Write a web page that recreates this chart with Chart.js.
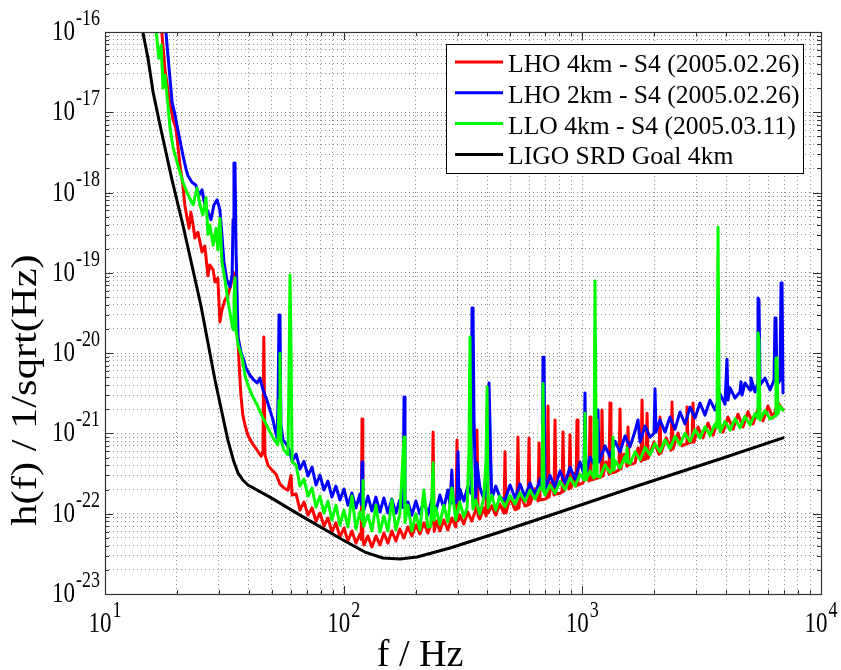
<!DOCTYPE html>
<html>
<head>
<meta charset="utf-8">
<script src="https://cdn.jsdelivr.net/npm/chart.js@4.4.1/dist/chart.umd.min.js"></script>
<style>
  html, body { margin: 0; padding: 0; background: #fff; }
  #wrap { width: 841px; height: 670px; }
</style>
</head>
<body>
<div id="wrap"><canvas id="noiseChart" width="841" height="670"></canvas></div>
<script>
// strain noise spectra, [frequency Hz, h(f) 1/sqrt(Hz)]
const lho4k = [[17.3,1e-16],[17.84,3.4e-17],[18.6,1.42e-17],[19.3,8.0e-18],[19.8,6.4e-18],[20.2,3.9e-18],[20.6,2.2e-18],[21.2,1.24e-18],[21.6,7.0e-19],[22.1,4.8e-19],[22.5,3.6e-19],[22.9,5.7e-19],[23.4,3.95e-19],[23.8,2.72e-19],[24.5,3.2e-19],[25.0,2.43e-19],[25.5,1.82e-19],[26.2,2.16e-19],[27.0,9.2e-20],[27.5,1.25e-19],[28.4,1.09e-19],[28.9,7.7e-20],[29.7,8.6e-20],[30.3,2.45e-20],[30.9,3.45e-20],[31.8,4.6e-20],[32.7,5.2e-20],[33.7,7.1e-20],[34.4,1.03e-19],[35.05,9.4e-20],[35.7,2.6e-20],[36.4,8.2e-21],[37.1,3.0e-21],[37.8,1.69e-21],[38.6,1.27e-21],[39.7,9.5e-22],[41.3,7.6e-22],[43.4,6.2e-22],[45.1,5.2e-22],[45.9,5.9e-22],[46.3,1.59e-20],[46.8,5.4e-22],[48.2,4.0e-22],[50.1,3.5e-22],[52.1,3.1e-22],[54.1,2.34e-22],[56.2,2.09e-22],[58.4,1.97e-22],[60.2,3.0e-22],[60.8,1.71e-22],
  [63.2,1.76e-22],[65.6,1.11e-22],[68.2,1.4e-22],[70.9,9.6e-23],[73.7,1.18e-22],[76.6,8.1e-23],[79.6,1.02e-22],[82.7,7.03e-23],[85.9,8.84e-23],[89.3,5.92e-23],[92.8,7.7e-23],[96.5,5.13e-23],[100.3,6.64e-23],[104.2,4.57e-23],[108.3,6.1e-23],[112.6,4.3e-23],[117.0,5.59e-23],[118.5,4.8e-23],[119.4,1.51e-21],[120.3,4.8e-23],[121.6,4.08e-23],[126.4,5.28e-23],[131.3,3.85e-23],[136.5,5.28e-23],[141.9,4.08e-23],[147.4,5.75e-23],[153.2,4.3e-23],[159.2,6.1e-23],[165.5,4.57e-23],[172.0,6.45e-23],[178.8,4.98e-23],[185.8,6.84e-23],[193.1,5.28e-23],[200.7,7.24e-23],[208.6,5.59e-23],[216.8,7.7e-23],[225.3,5.75e-23],[234.1,7.9e-23],[237,1.04e-21],[239.4,6.0e-23],[245.0,8.1e-23],[252.9,6.1e-23],[262.8,8.35e-23],[273.1,6.27e-23],[283.9,8.84e-23],[295.0,6.84e-23],[298.5,8.3e-22],[301.4,8.1e-23],[306.6,9.6e-23],[318.7,7.44e-23],[331.2,1.05e-22],[344.2,8.1e-23],[357.7,1.11e-22],[362,1.1e-21],[365.7,9.4e-23],[371.8,8.6e-23],[386.4,1.18e-22],[395,9.4e-23],[399,2.13e-21],[402.5,1.02e-22],[417.3,1.25e-22],[433.7,9.6e-23],[450.7,1.32e-22],
  [469.7,1.02e-22],[474.3,5.9e-22],[479,1.02e-22],[497.7,1.6e-22],[522.3,1.12e-22],[532,1.14e-22],[537.4,9.0e-22],[542.6,1.18e-22],[548.2,1.77e-22],[575.3,1.25e-22],[592,1.28e-22],[598,8.8e-22],[603.7,1.32e-22],[633.5,2.05e-22],[652,1.44e-22],[658.6,7.6e-22],[664.9,1.48e-22],[697.7,1.52e-22],[711,1.57e-22],[718,2.19e-21],[725,1.61e-22],[746.4,2.48e-22],[761,1.71e-22],[768.4,1.47e-21],[776,1.76e-22],[806.4,1.8e-22],[822,1.86e-22],[830,1.04e-21],[838,1.92e-22],[863,2.95e-22],[879,2.03e-22],[888,9.6e-22],[897,2.09e-22],[923,3.2e-22],[941,2.21e-22],[950,1.47e-21],[959,2.28e-22],[1006,2.41e-22],[1045,3.7e-22],[1066,2.55e-22],[1077,1.6e-21],[1087,2.63e-22],[1141,2.74e-22],[1198,2.87e-22],[1209,1.96e-21],[1221,2.95e-22],[1257,4.4e-22],[1293,3.1e-22],[1306,2.39e-21],[1318,3.2e-22],[1371,3.3e-22],[1424,3.5e-22],[1438,2.01e-21],[1452,3.6e-22],[1495,5.5e-22],[1539,3.9e-22],[1554,1.2e-21],[1569,4.05e-22],[1663,4.3e-22],[1711,6.6e-22],[1762,4.5e-22],[1779,2.6e-21],[1796,4.7e-22],[1849,4.8e-22],[1867,1.79e-21],[1885,4.9e-22],[1997,7.8e-22],[2096,5.5e-22],[2116,1.6e-21],[2137,5.7e-22],[2243,8.8e-22],[2353,6.2e-22],[2376,2.46e-21],[2399,6.4e-22],[2516,1.01e-21],[2616,7.0e-22],[2719,7.4e-22],[2745,2.13e-21],[2772,7.6e-22],[2881,7.8e-22],[2909,2.39e-21],[2937,7.8e-22],[3053,1.2e-21],[3203,8.8e-22],[3362,1.35e-21],[3529,9.5e-22],[3702,1.47e-21],[3886,1.04e-21],[4076,1.6e-21],[4279,1.13e-21],[4488,1.74e-21],[4711,1.2e-21],[4943,1.87e-21],[5187,1.31e-21],[5445,2.01e-21],[5715,1.43e-21],[5997,2.19e-21],[6293,1.56e-21],[6605,2.39e-21],[6933,1.96e-21]];

const lho2k = [[18.0,1e-16],[18.4,4.7e-17],[19.1,1.34e-17],[19.65,9.3e-18],[20.0,7.0e-18],[20.6,4.5e-18],[21.2,2.94e-18],[21.9,1.91e-18],[22.3,1.61e-18],[23.1,1.35e-18],[24.0,1.24e-18],[24.8,9.3e-19],[25.5,1.08e-18],[26.2,7.0e-19],[27.0,5.7e-19],[27.8,4.6e-19],[28.6,7.0e-19],[29.5,8.1e-19],[30.3,6.1e-19],[30.9,2.96e-19],[31.5,1.37e-19],[32.4,8.2e-20],[33.4,6.7e-20],[34.1,9.4e-20],[34.4,4.6e-19],[34.7,2.34e-18],[35.05,2.34e-18],[35.4,1.93e-19],[36.1,1.59e-20],[37.1,1.03e-20],[37.8,8.9e-21],[39.0,6.5e-21],[40.5,5.3e-21],[42.1,4.6e-21],[43.4,4.25e-21],[44.6,4.9e-21],[45.9,3.5e-21],[47.7,2.6e-21],[49.1,1.96e-21],[50.6,1.47e-21],[51.6,1.1e-21],[52.6,8.8e-22],[53.1,2.6e-21],[53.6,2.99e-20],[54.1,2.6e-20],[54.6,1.27e-21],[55.7,8.3e-22],[57.9,7.2e-22],[59.6,5.9e-22],
  [60.8,4.5e-22],[63.2,5.55e-22],[65.6,3.6e-22],[68.2,4.5e-22],[70.9,2.95e-22],[73.7,3.8e-22],[76.6,2.28e-22],[79.6,3.03e-22],[82.7,1.97e-22],[85.9,2.55e-22],[89.3,1.61e-22],[92.8,2.21e-22],[96.5,1.48e-22],[100.3,2.03e-22],[104.2,1.28e-22],[108.3,1.81e-22],[112.6,1.18e-22],[117.0,1.76e-22],[118.5,1.3e-22],[119.4,4.4e-22],[120.3,1.3e-22],[121.6,1.11e-22],[126.4,1.66e-22],[131.3,1.08e-22],[136.5,1.61e-22],[141.9,1.05e-22],[147.4,1.57e-22],[153.2,1.02e-22],[159.2,1.52e-22],[165.5,1.02e-22],[172.0,1.48e-22],[177.3,1.2e-22],[179,2.84e-21],[180.7,1.2e-22],[185.8,1.4e-22],[193.1,9.6e-23],[200.7,1.44e-22],[208.6,9.9e-23],[216.8,1.48e-22],[225.3,9.6e-23],[234.1,1.52e-22],[243.3,1.05e-22],[252.9,1.71e-22],[262.8,1.18e-22],[273.1,1.97e-22],[279,1.3e-22],[283.9,3.5e-22],[288,1.36e-22],[295.0,1.36e-22],[298.5,1.5e-22],[301.4,5.9e-22],[304.3,1.5e-22],[306.6,2.03e-22],[318.7,1.44e-22],[331.2,2.15e-22],[341.6,1.8e-22],[345,3.65e-20],[348.3,3.65e-20],[351.7,1.47e-21],[357.7,1.48e-22],[362,4.3e-22],[371.8,2.15e-22],[386.4,1.52e-22],[401.5,2.15e-22],[406.4,4.25e-21],[417.3,1.52e-22],[433.7,2.21e-22],[450.7,1.61e-22],
  [474.3,1.48e-22],[497.7,2.28e-22],[522.3,1.57e-22],[548.2,2.34e-22],[575.3,1.61e-22],[603.7,2.41e-22],[633.5,1.71e-22],[664.9,2.7e-22],[678,1.97e-22],[684.6,8.9e-21],[691.2,8.9e-21],[697.7,1.97e-22],[732.2,3.0e-22],[768.4,2.15e-22],[806.4,3.4e-22],[846.2,2.41e-22],[888.1,3.8e-22],[932,2.7e-22],[978.1,4.4e-22],[1016,3.1e-22],[1026,3.18e-21],[1036,3.1e-22],[1077,5.1e-22],[1130,3.9e-22],[1152,4.3e-22],[1163,1.96e-21],[1175,4.4e-22],[1245,7.0e-22],[1306,5.1e-22],[1371,8.0e-22],[1438,5.9e-22],[1510,9.3e-22],[1584,6.8e-22],[1663,1.07e-21],[1711,1.47e-21],[1745,7.8e-22],[1831,1.24e-21],[1921,9.0e-22],[1997,1.0e-21],[2016,3.6e-21],[2036,1.04e-21],[2116,1.47e-21],[2221,1.04e-21],[2330,1.6e-21],[2445,1.13e-21],[2566,1.85e-21],[2693,1.31e-21],[2826,2.13e-21],[2966,1.56e-21],[3112,2.39e-21],[3266,1.69e-21],[3427,2.6e-21],[3597,1.96e-21],[3775,3.1e-21],[3961,2.32e-21],[4037,8.4e-21],[4076,2.6e-21],[4157,3.7e-21],[4362,2.76e-21],[4578,3.28e-21],[4622,4.4e-21],[4667,3.0e-21],[4804,4.25e-21],[5041,3.47e-21],[5089,4.9e-21],[5290,3.28e-21],[5396,4.0e-21],[5445,4.87e-20],[5498,4.6e-20],[5552,4.0e-21],[5826,4.9e-21],[6114,3.47e-21],[6353,4.6e-21],[6416,2.74e-20],[6478,2.6e-20],[6541,4.0e-21],[6733,4.6e-21],[6799,7.5e-20],[6866,7.5e-20],[6933,3.18e-21]];

const llo4k = [[16.4,1e-16],[16.8,4.7e-17],[17.2,6.9e-17],[17.5,2.0e-17],[17.84,2.9e-17],[18.4,1.13e-17],[18.72,6.4e-18],[19.3,3.6e-18],[20.2,2.2e-18],[21.2,1.35e-18],[22.3,9.3e-19],[23.4,7.0e-19],[24.3,1.14e-18],[25.0,7.0e-19],[25.7,5.3e-19],[26.5,8.6e-19],[27.0,3.0e-19],[27.5,3.95e-19],[28.4,2.2e-19],[29.2,3.6e-19],[29.7,1.93e-19],[30.3,4.8e-19],[30.9,1.37e-19],[31.8,8.2e-20],[32.7,4.6e-20],[33.7,2.75e-20],[34.4,1.95e-20],[34.7,4.6e-20],[35.05,8.7e-20],[35.4,1.95e-20],[36.1,1.27e-20],[37.5,8.9e-21],[38.6,5.3e-21],[39.7,4.0e-21],[41.3,3.0e-21],[43.4,2.26e-21],[45.9,1.56e-21],[48.2,1.17e-21],[50.6,8.8e-22],[53.0,7.2e-22],[53.6,2.6e-21],[54.1,1.0e-20],[54.6,8.3e-22],[56.2,6.2e-22],[58.4,5.4e-22],[59.0,4.6e-21],[59.6,9.4e-20],[60.2,1.1e-20],[60.8,4.4e-22],
  [63.2,4.04e-22],[65.6,2.21e-22],[68.2,2.7e-22],[70.9,1.66e-22],[73.7,2.09e-22],[76.6,1.21e-22],[79.6,1.66e-22],[82.7,1.02e-22],[85.9,1.44e-22],[89.3,8.35e-23],[92.8,1.28e-22],[96.5,7.2e-23],[100.3,1.11e-22],[104.2,6.8e-23],[108.3,1.66e-22],[112.6,6.45e-23],[117.0,1.05e-22],[119.8,8.0e-23],[120.5,2.6e-22],[121.2,7.0e-23],[126.4,9.6e-23],[131.3,6.1e-23],[136.5,1.28e-22],[141.9,5.9e-23],[147.4,9.36e-23],[153.2,6.1e-23],[159.2,1.48e-22],[165.5,6.27e-23],[172.0,9.9e-23],[177.3,5.4e-22],[179,9.0e-22],[180.7,7.7e-23],[185.8,1.28e-22],[193.1,6.1e-23],[200.7,9.9e-23],[208.6,6.27e-23],[216.8,1.97e-22],[225.3,6.8e-23],[232,7.0e-23],[237,4.3e-22],[239.4,8.3e-23],[243.3,1.18e-22],[252.9,7.4e-23],[262.8,1.28e-22],[273.1,7.9e-23],[283.9,2.09e-22],[295.0,8.35e-23],[306.6,1.4e-22],[318.7,9.1e-23],[329,1.18e-22],[334.9,6.2e-22],[338.3,1.59e-20],[341.6,4.7e-22],[348,1.14e-22],[357.7,1.48e-22],[371.8,9.9e-23],[386.4,1.57e-22],[395,4.7e-22],[399,3.8e-21],[402.5,1.18e-22],[417.3,1.71e-22],[433.7,1.11e-22],[450.7,1.66e-22],
  [474.3,1.22e-22],[497.7,1.69e-22],[522.3,1.32e-22],[548.2,1.82e-22],[575.3,1.42e-22],[603.7,1.96e-22],[633.5,1.53e-22],[664.9,2.1e-22],[677.8,1.97e-22],[684.6,4.2e-21],[690.9,1.86e-22],[697.7,1.71e-22],[732.2,2.28e-22],[768.4,1.8e-22],[806.4,2.52e-22],[846.2,2.0e-22],[888.1,2.8e-22],[932,2.21e-22],[978.1,3.1e-22],[1016,2.63e-22],[1026,1.79e-21],[1036,2.63e-22],[1077,3.4e-22],[1119,2.78e-22],[1130,7.9e-20],[1141,1.47e-21],[1152,2.95e-22],[1186,2.87e-22],[1245,4.06e-22],[1306,3.25e-22],[1331,3.5e-22],[1344,9.0e-22],[1357,3.5e-22],[1371,4.6e-22],[1438,3.7e-22],[1510,5.2e-22],[1525,4.4e-22],[1539,6.6e-22],[1554,4.4e-22],[1584,4.2e-22],[1663,5.9e-22],[1745,4.7e-22],[1831,6.7e-22],[1921,5.4e-22],[2016,7.5e-22],[2116,5.9e-22],[2221,8.3e-22],[2330,6.5e-22],[2445,9.2e-22],[2566,7.2e-22],[2693,1.0e-21],[2826,7.95e-22],[2966,1.11e-21],[3112,8.8e-22],[3266,1.21e-21],[3427,9.4e-22],[3597,1.31e-21],[3666,1.17e-21],[3702,3.7e-19],[3738,4.6e-21],[3775,1.04e-21],[3961,1.41e-21],[4157,1.1e-21],[4362,1.52e-21],[4578,1.18e-21],[4804,1.63e-21],[5041,1.27e-21],[5290,1.77e-21],[5396,1.56e-21],[5445,1.79e-20],[5500,1.46e-20],[5552,1.47e-21],[5826,1.93e-21],[6114,1.51e-21],[6416,1.65e-21],[6478,8.7e-21],[6541,8.7e-21],[6605,1.74e-21],[6733,2.19e-21],[6933,1.95e-21]];

const srdGoal = [[14.4,1e-16],[15.14,4.7e-17],[15.9,1.79e-17],[17.0,6.95e-18],[19.1,1.43e-18],[21.2,3.95e-19],[25.2,3.98e-20],[28.9,4.63e-21],[32.7,8.3e-22],[34.7,4.4e-22],[36.1,3.21e-22],[37.8,2.63e-22],[39.7,2.28e-22],[49.1,1.61e-22],[65.6,9.6e-23],[99.4,4.7e-23],[122.7,3.33e-23],[146,2.81e-23],[172.2,2.73e-23],[203,2.89e-23],[279,3.74e-23],[452,5.92e-23],[806,1.05e-22],[1744,2.28e-22],[3775,4.8e-22],[6933,8.8e-22]];

const seriesLabels = ['LHO 4km - S4 (2005.02.26)', 'LHO 2km - S4 (2005.02.26)', 'LLO 4km - S4 (2005.03.11)', 'LIGO SRD Goal 4km'];
const seriesColors = ['#ff0000', '#0000ff', '#00ff00', '#000000'];
const xTickExps = [1, 2, 3, 4];
const yTickExps = [-23, -22, -21, -20, -19, -18, -17, -16];

const SERIF = '"Liberation Serif", "Times New Roman", serif';

function decadeTicks(exps) {
  const out = [];
  for (let i = 0; i < exps.length; i++) {
    const p = Math.pow(10, exps[i]);
    if (i === exps.length - 1) { out.push({ value: p }); break; }
    for (let m = 1; m <= 9; m++) out.push({ value: m * p });
  }
  return out;
}

function toPoints(rows) { return rows.map(r => ({ x: r[0], y: r[1] })); }

// "10" with a raised exponent, glyphs drawn a little tall
function drawPow(ctx, exp, x, baseline, align) {
  const sup = String(exp), stretch = 1.25;
  ctx.font = '23px ' + SERIF;
  const wb = ctx.measureText('10').width;
  ctx.font = '18px ' + SERIF;
  const we = ctx.measureText(sup).width;
  const left = align === 'right' ? x - wb - we - 1 : x - (wb + we + 1) / 2;
  ctx.textAlign = 'left';
  ctx.textBaseline = 'alphabetic';
  ctx.save();
  ctx.translate(left, baseline);
  ctx.scale(1, stretch);
  ctx.font = '23px ' + SERIF;
  ctx.fillText('10', 0, 0);
  ctx.font = '18px ' + SERIF;
  ctx.fillText(sup, wb + 1, -12);
  ctx.restore();
}

const axesDecor = {
  id: 'axesDecor',
  afterDraw(chart) {
    const { ctx, chartArea: a, scales: { x, y } } = chart;
    ctx.save();
    ctx.strokeStyle = '#333';
    ctx.lineWidth = 1;
    // inward tick marks on all four sides
    x.ticks.forEach(t => {
      const px = Math.round(x.getPixelForValue(t.value)) + 0.5;
      const major = xTickExps.some(e => Math.abs(Math.log10(t.value) - e) < 1e-9);
      const len = major ? 8 : 4;
      ctx.beginPath();
      ctx.moveTo(px, a.bottom); ctx.lineTo(px, a.bottom - len);
      ctx.moveTo(px, a.top); ctx.lineTo(px, a.top + len);
      ctx.stroke();
    });
    y.ticks.forEach(t => {
      const py = Math.round(y.getPixelForValue(t.value)) + 0.5;
      const major = yTickExps.some(e => Math.abs(Math.log10(t.value) - e) < 1e-9);
      const len = major ? 8 : 4;
      ctx.beginPath();
      ctx.moveTo(a.left, py); ctx.lineTo(a.left + len, py);
      ctx.moveTo(a.right, py); ctx.lineTo(a.right - len, py);
      ctx.stroke();
    });
    ctx.lineWidth = 1.2;
    ctx.strokeRect(Math.round(a.left) + 0.5, Math.round(a.top) + 0.5,
      Math.round(a.right - a.left), Math.round(a.bottom - a.top));

    // tick labels
    ctx.fillStyle = '#000';
    yTickExps.forEach(e => {
      const py = y.getPixelForValue(Math.pow(10, e));
      drawPow(ctx, e, a.left - 5, py + 8, 'right');
    });
    xTickExps.forEach(e => {
      const px = x.getPixelForValue(Math.pow(10, e));
      drawPow(ctx, e, px, a.bottom + 38, 'center');
    });

    // axis titles
    ctx.font = '38px ' + SERIF;
    ctx.textAlign = 'center';
    ctx.textBaseline = 'alphabetic';
    ctx.fillText('f / Hz', 420, 666);
    ctx.save();
    ctx.translate(36, 390);
    ctx.rotate(-Math.PI / 2);
    ctx.scale(1.18, 1);
    ctx.font = '36px ' + SERIF;
    ctx.fillText('h(f) / 1/sqrt(Hz)', 0, 0);
    ctx.restore();

    // legend box
    const bx = a.left + 341, by = a.top + 12, bw = 357, bh = 129;
    ctx.fillStyle = '#fff';
    ctx.fillRect(bx, by, bw, bh);
    ctx.lineWidth = 1;
    ctx.strokeStyle = '#000';
    ctx.strokeRect(bx + 0.5, by + 0.5, bw, bh);
    ctx.font = '25.6px ' + SERIF;
    ctx.textAlign = 'left';
    seriesLabels.forEach((lab, i) => {
      const ly = by + 18 + i * 30.8;
      ctx.strokeStyle = seriesColors[i];
      ctx.lineWidth = 3;
      ctx.beginPath();
      ctx.moveTo(bx + 9, ly); ctx.lineTo(bx + 57, ly);
      ctx.stroke();
      ctx.fillStyle = '#000';
      ctx.fillText(lab, bx + 62, ly + 10);
    });
    ctx.restore();
  }
};

function lineSet(i, rows, order) {
  return {
    label: seriesLabels[i],
    data: toPoints(rows),
    borderColor: seriesColors[i],
    backgroundColor: seriesColors[i],
    borderWidth: 3,
    borderJoinStyle: 'round',
    borderCapStyle: 'round',
    pointRadius: 0,
    tension: 0,
    fill: false,
    order
  };
}

const gridStyle = { color: 'rgba(70,70,70,0.6)', lineWidth: 1, drawTicks: false };

new Chart(document.getElementById('noiseChart'), {
  type: 'line',
  data: {
    datasets: [
      lineSet(0, lho4k, 4),
      lineSet(1, lho2k, 3),
      lineSet(2, llo4k, 2),
      lineSet(3, srdGoal, 1)
    ]
  },
  options: {
    responsive: false,
    animation: false,
    devicePixelRatio: 1,
    layout: { padding: { left: 105, right: 20, top: 32, bottom: 76 } },
    plugins: { legend: { display: false }, tooltip: { enabled: false } },
    scales: {
      x: {
        type: 'logarithmic', min: 10, max: 10000,
        afterBuildTicks: s => { s.ticks = decadeTicks(xTickExps); },
        afterFit: s => { s.height = 0; },
        ticks: { display: false },
        grid: gridStyle,
        border: { display: false, dash: [1, 3] }
      },
      y: {
        type: 'logarithmic', min: 1e-23, max: 1e-16,
        afterBuildTicks: s => { s.ticks = decadeTicks(yTickExps); },
        afterFit: s => { s.width = 0; },
        ticks: { display: false },
        grid: gridStyle,
        border: { display: false, dash: [1, 3] }
      }
    }
  },
  plugins: [axesDecor]
});
</script>
</body>
</html>
